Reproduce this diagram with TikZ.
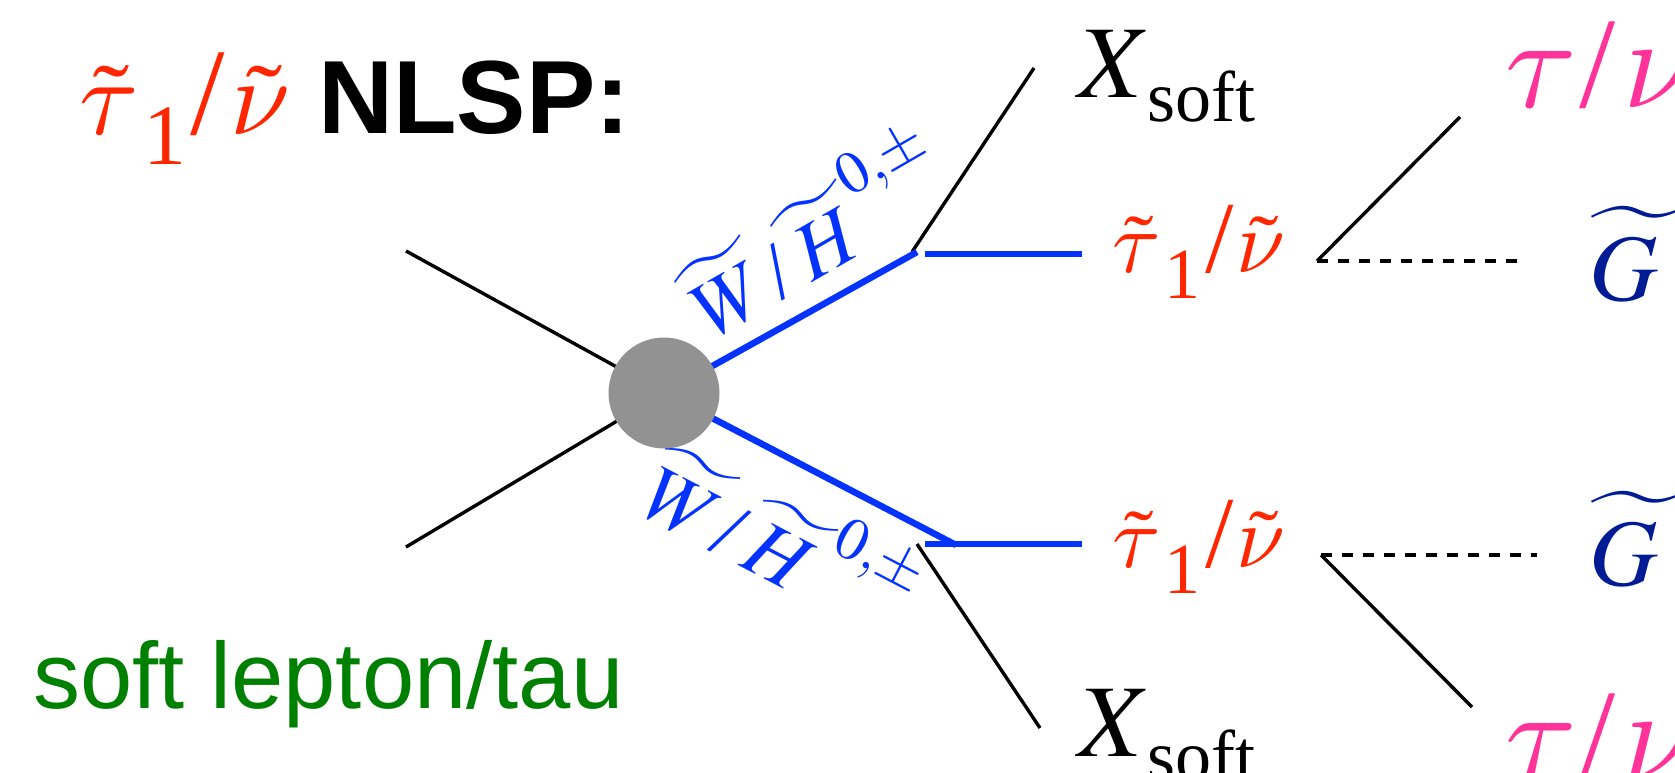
\documentclass[tikz,border=0pt]{standalone}
\usepackage{mathptmx}
\usepackage{fontspec}
\setmainfont{Liberation Serif}
\newfontfamily\hv{Liberation Sans}
\DeclareFontFamily{OML}{mycmm}{\skewchar\font127}
\DeclareFontShape{OML}{mycmm}{m}{it}{<-> cmmi10}{}
\DeclareFontFamily{OMX}{mycmex}{}
\DeclareFontShape{OMX}{mycmex}{m}{n}{<-> cmex10}{}
\DeclareSymbolFont{cmletters}{OML}{mycmm}{m}{it}
\DeclareMathSymbol{\Ltau}{\mathord}{cmletters}{"1C}
\DeclareMathSymbol{\Lnu}{\mathord}{cmletters}{"17}
\DeclareSymbolFont{cmlarge}{OMX}{mycmex}{m}{n}
\DeclareMathAccent{\Lwtilde}{\mathord}{cmlarge}{"65}
\definecolor{lblue}{RGB}{4,51,255}
\definecolor{sred}{RGB}{255,38,0}
\definecolor{spink}{RGB}{255,51,153}
\definecolor{gnavy}{RGB}{0,27,148}
\definecolor{sgreen}{RGB}{0,128,0}
\definecolor{blobgray}{RGB}{146,146,146}
\newcommand{\fs}[1]{\fontsize{#1}{#1}\selectfont}
% tilde-stau / tilde-nu: #1 greek size, #2 sub size, #3 sub drop, #4 slash size, #5 kern after tau, #6 kern after 1, #7 kern after slash
\newcommand{\staunu}[7]{\hbox{\fs{#1}$\tilde{\Ltau}$\kern#5\raisebox{-#3}{\fs{#2}1}\kern#6{\fs{#4}/}\kern#7\fs{#1}$\tilde{\Lnu}$}}
\newcommand{\xsoft}{\hbox{\fs{103}$X$\kern-3pt\raisebox{-24pt}{\fs{72}soft}}}
\newcommand{\taunu}{\hbox{\fs{130}$\Ltau$\kern3pt/\kern8pt$\Lnu$}}
\newcommand{\winolab}{\fs{81}$\Lwtilde{\hbox to 1.03em{\hss$W$\hss}}\mbox{\kern2pt/\kern2pt}\Lwtilde{\hbox to 1.05em{\hss$H$\hss}}^{0,\pm}$}
\newcommand{\gravitino}{\fs{95}$\Lwtilde{\hbox to 1.05em{$G$\hss}}$}
\tikzset{
  txt/.style={inner sep=0pt, outer sep=0pt, anchor=base west},
  fermion/.style={line width=3.4pt, black},
  ino/.style={line width=6.5pt, lblue},
  grav/.style={line width=4.5pt, black, dash pattern=on 11pt off 10pt},
  blob/.style={circle, fill=blobgray, minimum size=111pt, inner sep=0pt},
}
\begin{document}
\begin{tikzpicture}[x=1pt,y=-1pt]
\useasboundingbox (0,0) rectangle (1675,773);
% texts
\node[txt, sred] (title) at (79,135) {\staunu{108pt}{86pt}{30pt}{124pt}{5pt}{4pt}{6pt}};
\node[txt] (nlsp) at (318,133) {\fs{104}\hv\bfseries NLSP:};
\node[txt, sgreen] (soft) at (33,708) {\fs{94}\hv soft lepton/tau};
\node[txt] (xu) at (1078,98) {\xsoft};
\node[txt] (xl) at (1078,756) {\xsoft};
\node[txt, sred] (su) at (1112,272) {\staunu{88pt}{72pt}{26pt}{102pt}{4pt}{5pt}{3pt}};
\node[txt, sred] (sl) at (1112,567) {\staunu{88pt}{72pt}{26pt}{102pt}{4pt}{5pt}{3pt}};
\node[txt, spink] (tu) at (1505,108) {\taunu};
\node[txt, spink] (tl) at (1505,779) {\taunu};
\node[txt, gnavy] (gu) at (1589,300) {\gravitino};
\node[txt, gnavy] (gl) at (1589,585) {\gravitino};
\node[txt, lblue, rotate=30] (lu) at (708,343) {\winolab};
\node[txt, lblue, rotate=-27.5] (ll) at (632,510) {\winolab};
% vertices
\coordinate (inA) at (406,251);
\coordinate (inB) at (406,547);
\coordinate (bc) at (664,393);
\coordinate (uA) at (917,252);
\coordinate (uH1) at (925,254);
\coordinate (uH2) at (1082,254);
\coordinate (uB0) at (912,252);
\coordinate (uB1) at (1034,68);
\coordinate (lA) at (956,545);
\coordinate (lH1) at (925,544);
\coordinate (lH2) at (1082,544);
\coordinate (lB0) at (917,544);
\coordinate (lB1) at (1040,728);
\coordinate (ru) at (1317,261);
\coordinate (ruT) at (1460,117);
\coordinate (ruG) at (1519,261);
\coordinate (rl) at (1321,555);
\coordinate (rlG) at (1537,555);
\coordinate (rlT) at (1472,707);
% lines
\draw[fermion] (inA) -- (bc);
\draw[fermion] (inB) -- (bc);
\draw[fermion] (uB0) -- (uB1);
\draw[fermion] (lB0) -- (lB1);
\draw[ino] (bc) -- (uA);
\draw[ino] (bc) -- (lA);
\draw[ino] (uH1) -- (uH2);
\draw[ino] (lH1) -- (lH2);
\draw[fermion] (ru) -- (ruT);
\draw[grav] (ru) -- (ruG);
\draw[fermion] (rl) -- (rlT);
\draw[grav] (rl) -- (rlG);
\node[blob] (blob) at (bc) {};
\end{tikzpicture}
\end{document}
